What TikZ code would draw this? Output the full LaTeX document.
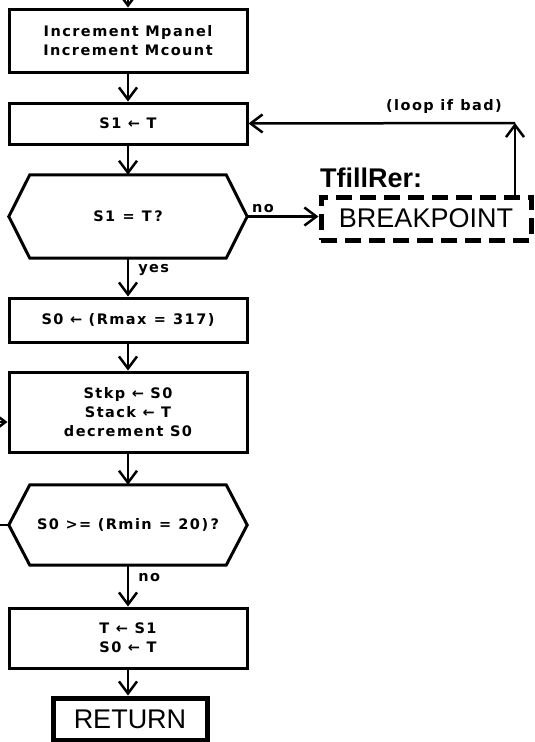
\documentclass[tikz,border=0pt]{standalone}
\usepackage{fontspec}
\setmainfont{Liberation Sans}
\newfontfamily\widefont{DejaVu Sans}[LetterSpace=10]
\usetikzlibrary{arrows.meta,calc}
\begin{document}
\begin{tikzpicture}[x=1pt,y=-1pt,
  txt/.style={font=\widefont\bfseries\fontsize{14.5}{19}\selectfont},
  box/.style={txt,draw,line width=3pt,minimum width=238pt,inner sep=0pt,align=center},
  hex/.style={txt,minimum width=238pt,inner sep=0pt,align=center},
  hexline/.style={line width=3pt,line join=miter},
  arr/.style={line width=2.5pt,-{Straight Barb[length=12pt,width=18pt,line width=2.5pt]}},
  plain/.style={line width=2.5pt},
  lbl/.style={txt,inner sep=0pt},
  big/.style={font=\fontsize{27}{30}\selectfont}
]
\useasboundingbox (0,0) rectangle (535,742);

% nodes
\coordinate (top) at (128,0);
\node[box,minimum height=63pt] (b1) at (128,40.5) {Increment Mpanel\\Increment Mcount};
\node[box,minimum height=41pt] (b2) at (128,123.5) {S1 ← T};
\node[hex,minimum height=83pt] (h1) at (128,216.5) {S1\enspace=\enspace T\,?};
\node[box,minimum height=44pt] (b3) at (128,320) {S0 ← (Rmax\enspace=\enspace317)};
\node[box,minimum height=80pt] (b4) at (128,412) {Stkp ← S0\\Stack ← T\\decrement S0};
\node[hex,minimum height=80pt] (h2) at (128,525) {S0 >= (Rmin\enspace=\enspace20)\,?};
\node[box,minimum height=60pt] (b5) at (128,638) {T ← S1\\S0 ← T};
\node[draw,big,line width=5pt,minimum width=154pt,minimum height=42pt,inner sep=0pt] (ret) at (130,719) {RETURN};
\node[draw,big,line width=5pt,dash pattern=on 16pt off 8pt,minimum width=210pt,minimum height=43pt,inner sep=0pt] (bp) at (426,218.5) {BREAKPOINT};
\node[anchor=base west,inner sep=0pt,font=\bfseries\fontsize{27}{30}\selectfont] (tf) at (320,187) {TfillRer:};
\node[lbl] (lp) at (444,106) {(loop if\enspace bad)};

% hexagon outlines
\draw[hexline] (h1.west) -- ([xshift=21pt]h1.north west) -- ([xshift=-21pt]h1.north east) -- (h1.east) -- ([xshift=-21pt]h1.south east) -- ([xshift=21pt]h1.south west) -- cycle;
\draw[hexline] (h2.west) -- ([xshift=21pt]h2.north west) -- ([xshift=-21pt]h2.north east) -- (h2.east) -- ([xshift=-21pt]h2.south east) -- ([xshift=21pt]h2.south west) -- cycle;

% connectors
\draw[arr] (top) -- (b1);
\draw[arr] (b1) -- (b2);
\draw[arr] (b2) -- (h1.north);
\draw[arr] (h1.south) -- node[lbl,pos=0.3,right=9pt] {yes} (b3);
\draw[arr] (h1.east) -- node[lbl,pos=0.22,above=3pt] {no} (h1.east -| bp.west);
\coordinate (lc) at (515,123);
\draw[arr] (lc |- bp.north) -- (lc);
\draw[arr] (lc) -- (b2.east);
\draw[arr] (b3) -- (b4);
\coordinate (inl) at (0,422);
\draw[arr] (inl) -- (b4.west |- inl);
\draw[arr] (b4) -- (h2.north);
\coordinate (outl) at (0,525);
\draw[plain] (h2.west) -- (outl);
\draw[arr] (h2.south) -- node[lbl,pos=0.3,right=9pt] {no} (b5);
\draw[arr] (b5.south) -- (b5.south |- ret.north);
\end{tikzpicture}
\end{document}
